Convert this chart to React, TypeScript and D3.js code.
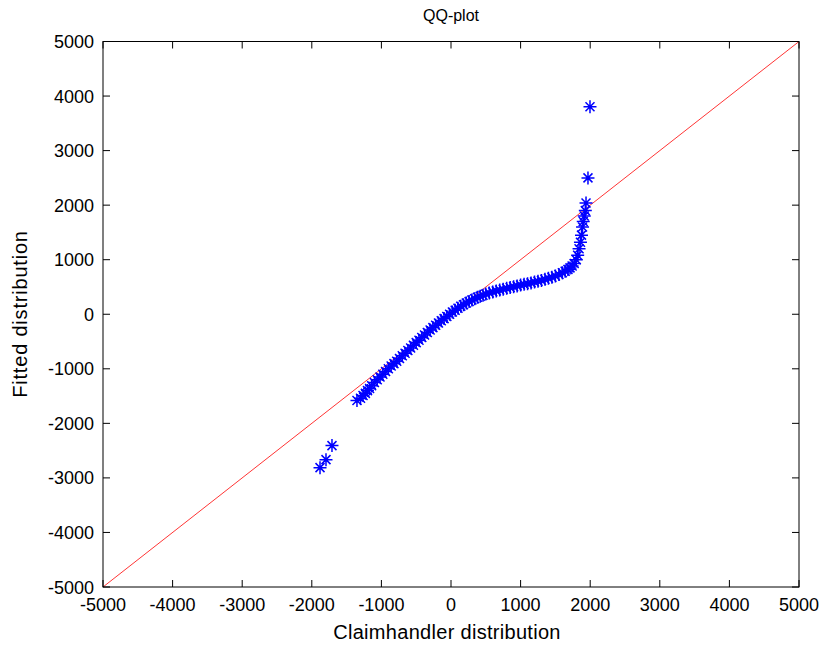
import React from "react";
import * as d3 from "d3";

const W = 821;
const H = 646;

const claimhandler = [
  -1882, -1796, -1710, -1351, -1300, -1264,
  -1230, -1200, -1170, -1140, -1100, -1060, -1020, -980, -940, -900,
  -860, -820, -780, -740, -700, -660, -620, -580, -540, -500,
  -460, -420, -380, -340, -300, -260, -220, -180, -140, -100,
  -60, -20, 20, 60, 100, 140, 180, 220, 260, 300,
  340, 380, 420, 460, 500, 550, 600, 650, 700, 750,
  800, 850, 900, 950, 1000, 1050, 1100, 1150, 1200, 1250,
  1300, 1350, 1400, 1450, 1500, 1550, 1600, 1640, 1680, 1710,
  1740, 1770, 1800, 1820, 1840, 1860, 1875, 1890, 1900, 1915,
  1930, 1940, 1968, 1997,
];

const fitted = [
  -2812, -2665, -2408, -1581, -1540, -1489,
  -1450, -1400, -1360, -1310, -1250, -1200, -1150, -1100, -1050, -1000,
  -950, -905, -860, -810, -760, -715, -665, -620, -570, -520,
  -475, -425, -380, -335, -290, -245, -200, -160, -120, -80,
  -40, 0, 40, 75, 110, 145, 175, 205, 235, 260,
  285, 310, 330, 350, 370, 390, 410, 428, 445, 460,
  475, 490, 505, 520, 535, 548, 560, 575, 590, 605,
  620, 640, 660, 680, 700, 730, 760, 790, 820, 850,
  885, 930, 1000, 1080, 1200, 1320, 1450, 1600, 1700, 1800,
  1900, 2040, 2500, 3805,
];

const xTicks = [-5000, -4000, -3000, -2000, -1000, 0, 1000, 2000, 3000, 4000, 5000];
const yTicks = [-5000, -4000, -3000, -2000, -1000, 0, 1000, 2000, 3000, 4000, 5000];
const refLine = [-5000, 5000];

const L = 103, R = 799, T = 41.5, B = 587;
const FONT = "'Liberation Sans', Arial, sans-serif";

export default function App() {
  const x = d3.scaleLinear().domain([-5000, 5000]).range([L, R]);
  const y = d3.scaleLinear().domain([-5000, 5000]).range([B, T]);
  const star = "M-6.5,0H6.5M0,-6.5V6.5M-4.5,-4.5L4.5,4.5M-4.5,4.5L4.5,-4.5";
  const tk = 7;
  return (
    <svg width={W} height={H} style={{ position: "absolute", left: 0, top: 0, background: "#fff" }}>
      <rect x={0} y={0} width={W} height={H} fill="#fff" />
      <line x1={x(refLine[0])} y1={y(refLine[0])} x2={x(refLine[1])} y2={y(refLine[1])} stroke="#ff0000" strokeWidth={0.8} />
      <g>
        {claimhandler.map((v, i) => (
          <path key={i} d={star} transform={`translate(${x(v)},${y(fitted[i])})`} stroke="#0000ff" strokeWidth={1.5} fill="none" />
        ))}
      </g>
      <rect x={L} y={T} width={R - L} height={B - T} fill="none" stroke="#000" strokeWidth={1} />
      {xTicks.map((t) => (
        <g key={"x" + t}>
          <line x1={x(t)} x2={x(t)} y1={B} y2={B - tk} stroke="#000" />
          <line x1={x(t)} x2={x(t)} y1={T} y2={T + tk} stroke="#000" />
          <text x={x(t)} y={611} textAnchor="middle" fontFamily={FONT} fontSize={18} fill="#000">{t}</text>
        </g>
      ))}
      {yTicks.map((t) => (
        <g key={"y" + t}>
          <line x1={L} x2={L + tk} y1={y(t)} y2={y(t)} stroke="#000" />
          <line x1={R} x2={R - tk} y1={y(t)} y2={y(t)} stroke="#000" />
          <text x={94} y={y(t) + 6.5} textAnchor="end" fontFamily={FONT} fontSize={18} fill="#000">{t}</text>
        </g>
      ))}
      <text x={451} y={21} textAnchor="middle" fontFamily={FONT} fontSize={16} fill="#000">QQ-plot</text>
      <text x={447} y={639} textAnchor="middle" fontFamily={FONT} fontSize={20} letterSpacing={0.3} fill="#000">Claimhandler distribution</text>
      <text transform={`translate(27,314) rotate(-90)`} textAnchor="middle" fontFamily={FONT} fontSize={20} letterSpacing={0.8} fill="#000">Fitted distribution</text>
    </svg>
  );
}
